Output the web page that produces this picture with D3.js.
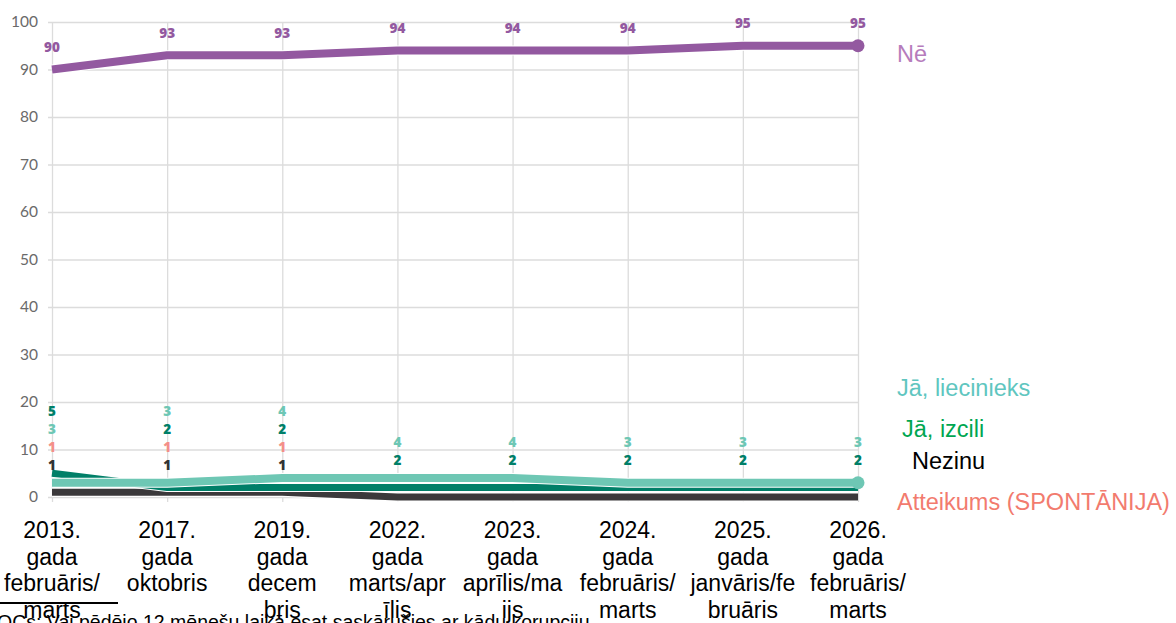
<!DOCTYPE html>
<html><head><meta charset="utf-8">
<script src="https://cdn.jsdelivr.net/npm/d3@7/dist/d3.min.js"></script>
<style>
html,body{margin:0;padding:0;background:#fff;overflow:hidden;}
svg{display:block;}
</style></head>
<body>
<svg id="chart" width="1176" height="623"></svg>
<script>
// ---- data ----
const categories = ["2013. gada februāris/marts","2017. gada oktobris","2019. gada decembris","2022. gada marts/aprīlis","2023. gada aprīlis/maijs","2024. gada februāris/marts","2025. gada janvāris/februāris","2026. gada februāris/marts"];
const categoryLines = [
  ["2013.","gada","februāris/","marts"],
  ["2017.","gada","oktobris"],
  ["2019.","gada","decem","bris"],
  ["2022.","gada","marts/apr","īlis"],
  ["2023.","gada","aprīlis/ma","ijs"],
  ["2024.","gada","februāris/","marts"],
  ["2025.","gada","janvāris/fe","bruāris"],
  ["2026.","gada","februāris/","marts"]
];
const yTicks = [0,10,20,30,40,50,60,70,80,90,100];
const seriesNames = ["Nē","Jā, liecinieks","Jā, izcili","Nezinu","Atteikums (SPONTĀNIJA)"];
const valuesNe        = [90,93,93,94,94,94,95,95];
const valuesLiecinieks= [3,3,4,4,4,3,3,3];
const valuesIzcili    = [5,2,2,2,2,2,2,2];
const valuesNezinu    = [1,1,1,0,0,0,0,0];
const valuesAtteikums = [1,1,1,0,0,0,0,0];
const footnote = "OCs: Vai pēdējo 12 mēnešu laikā esat saskārušies ar kādu korupciju";

// ---- styles ----
const colNe="#9359a0", colLie="#6ec7b4", colIzc="#007f68", colNez="#3b393b", colAtt="#f48f89";
const svg = d3.select("#chart");
const pLeft=48, pRight=858, pTop=22, pBottom=497;
const x = d3.scalePoint().domain(categories).range([52,858]);
const y = d3.scaleLinear().domain([0,100]).range([pBottom,pTop]);

// horizontal grid + y labels
const ya = svg.append("g").attr("transform",`translate(${pLeft},0)`)
  .call(d3.axisLeft(y).tickValues(yTicks).tickSize(-(pRight-pLeft)).tickPadding(10).tickFormat(d3.format("d")));
ya.select(".domain").remove();
ya.selectAll("line").attr("stroke","#dcdcdc").attr("stroke-width",1.3);
ya.selectAll("text").attr("fill","#6a6a6a").style("font-family","Lato, 'Open Sans', sans-serif").style("font-weight","400").style("font-size","15.5px");

// vertical grid
const xa = svg.append("g").attr("transform",`translate(0,502)`)
  .call(d3.axisBottom(x).tickSize(-(502-pTop)).tickFormat(""));
xa.select(".domain").remove();
xa.selectAll("line").attr("stroke","#dcdcdc").attr("stroke-width",1.3);

const line = d3.line().x((d,i)=>x(categories[i])).y(d=>y(d));

function drawLine(vals,color,w){
  svg.append("path").datum(vals).attr("d",line).attr("fill","none")
    .attr("stroke","#fff").attr("stroke-width",w+2).attr("stroke-linejoin","round");
  svg.append("path").datum(vals).attr("d",line).attr("fill","none")
    .attr("stroke",color).attr("stroke-width",w).attr("stroke-linejoin","round");
}
drawLine(valuesAtteikums,colAtt,7);
drawLine(valuesNezinu,colNez,7);
drawLine(valuesIzcili,colIzc,7);
drawLine(valuesLiecinieks,colLie,8);
drawLine(valuesNe,colNe,8);

// end dots
const last = categories.length-1;
svg.append("circle").attr("cx",x(categories[last])).attr("cy",y(valuesNe[last])).attr("r",6.5).attr("fill",colNe);
svg.append("circle").attr("cx",x(categories[last])).attr("cy",y(valuesLiecinieks[last])).attr("r",6.5).attr("fill",colLie);

// value labels
const labelFont = "'Open Sans', 'DejaVu Sans', sans-serif";
svg.append("g").selectAll("text").data(valuesNe).join("text")
  .attr("x",(d,i)=>x(categories[i])).attr("y",(d)=>y(d)-21)
  .attr("text-anchor","middle").attr("dominant-baseline","middle")
  .attr("fill",colNe).style("font-family",labelFont).style("font-weight","800").style("font-size","13.5px")
  .text(d=>d);

const small = [
  {vals:valuesLiecinieks,color:colLie},
  {vals:valuesIzcili,color:colIzc},
  {vals:valuesNezinu,color:"#333"},
  {vals:valuesAtteikums,color:colAtt}
];
const order = [2,3,1,0]; // tie order bottom->top
categories.forEach((c,i)=>{
  const items = small.map((s,k)=>({v:s.vals[i],color:s.color,k})).filter(o=>o.v>0);
  items.sort((a,b)=> a.v-b.v || order.indexOf(a.k)-order.indexOf(b.k));
  let prev = null;
  items.forEach(o=>{
    let yy = y(o.v)-26;
    if(prev!==null) yy = Math.min(yy, prev-18);
    prev = yy;
    svg.append("text").attr("x",x(c)).attr("y",yy)
      .attr("text-anchor","middle").attr("dominant-baseline","middle")
      .attr("fill",o.color).style("font-family",labelFont).style("font-weight","800").style("font-size","13.5px")
      .text(o.v);
  });
});

// legend labels at right
const legendFont = "'Liberation Sans', Arial, sans-serif";
const legend = [
  {t:seriesNames[0],x:897,y:56,c:"#b67cbc"},
  {t:seriesNames[1],x:897,y:390,c:"#5fc6c0"},
  {t:seriesNames[2],x:902,y:431,c:"#00a651"},
  {t:seriesNames[3],x:912,y:463,c:"#000"},
  {t:seriesNames[4],x:897,y:504,c:"#f27b6e"}
];
svg.append("g").selectAll("text").data(legend).join("text")
  .attr("x",d=>d.x).attr("y",d=>d.y).attr("dominant-baseline","middle")
  .attr("fill",d=>d.c).style("font-family",legendFont).style("font-size","23.5px").text(d=>d.t);

// x category labels
const xl = svg.append("g");
categories.forEach((c,i)=>{
  const t = xl.append("text").attr("x",x(c)).attr("y",538)
    .attr("text-anchor","middle").attr("fill","#000")
    .style("font-family",legendFont).style("font-size","23px");
  categoryLines[i].forEach((ln,j)=>{
    t.append("tspan").attr("x",x(c)).attr("y",538+j*26.5).text(ln);
  });
});

// artifact underline
svg.append("line").attr("x1",0).attr("x2",118).attr("y1",603).attr("y2",603).attr("stroke","#000").attr("stroke-width",2);

// footnote (cut off at bottom)
svg.append("text").attr("x",-3).attr("y",629).attr("fill","#000")
  .style("font-family",legendFont).style("font-size","19.5px").text(footnote);
</script>
</body></html>
